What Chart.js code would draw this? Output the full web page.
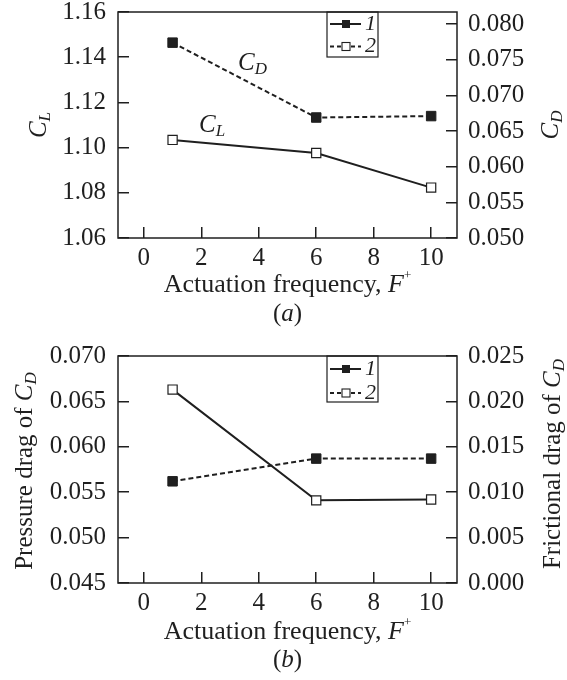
<!DOCTYPE html>
<html>
<head>
<meta charset="utf-8">
<script src="https://cdn.jsdelivr.net/npm/chart.js@4.4.1/dist/chart.umd.min.js"></script>
<style>
    body { margin: 0; background: #fff; }
    canvas { display: block; }
</style>
</head>
<body>
<canvas id="chartA" width="567" height="340"></canvas>
<canvas id="chartB" width="567" height="340"></canvas>
<script>
// actuation frequencies and x tick labels
var freq = [1, 6, 10];
var freqTicks = [0, 2, 4, 6, 8, 10];

// panel (a): lift (open squares, left) and drag (filled squares, right)
var liftCoef = [1.1034, 1.0976, 1.0823];
var dragCoef = [0.0774, 0.0669, 0.0671];
var liftTicks = [1.06, 1.08, 1.10, 1.12, 1.14, 1.16];
var dragTicks = [0.050, 0.055, 0.060, 0.065, 0.070, 0.075, 0.080];

// panel (b): pressure drag (open squares, left) and frictional drag (filled, right)
var pressureDrag = [0.0663, 0.0541, 0.0542];
var frictionDrag = [0.0112, 0.0137, 0.0137];
var pressureTicks = [0.045, 0.050, 0.055, 0.060, 0.065, 0.070];
var frictionTicks = [0.000, 0.005, 0.010, 0.015, 0.020, 0.025];

var legendLabels = ['1', '2'];

var FONT = '"Liberation Serif", "DejaVu Serif", serif';
var INK = '#1f1f1f';

function toPoints(xs, ys) {
    var pts = [];
    for (var i = 0; i < xs.length; i++) {
        pts.push({x: xs[i], y: ys[i]});
    }
    return pts;
}

function runFont(r) {
    var size = r.size || (r.sub ? 17 : (r.sup ? 13 : 25));
    return (r.it ? 'italic ' : '') + size + 'px ' + FONT;
}

// draw a line of mixed text (italic / subscript / superscript pieces)
function drawRuns(ctx, runs, x, y, align) {
    var total = 0;
    runs.forEach(function (r) {
        ctx.font = runFont(r);
        total += ctx.measureText(r.t).width;
    });
    var cx = align === 'center' ? x - total / 2 : x;
    ctx.textAlign = 'left';
    ctx.textBaseline = 'middle';
    ctx.fillStyle = INK;
    runs.forEach(function (r) {
        ctx.font = runFont(r);
        var dy = r.sub ? 7 : (r.sup ? -9 : 0);
        ctx.fillText(r.t, cx, y + dy);
        cx += ctx.measureText(r.t).width;
    });
}

function drawVertical(ctx, runs, x, y) {
    ctx.save();
    ctx.translate(x, y);
    ctx.rotate(-Math.PI / 2);
    drawRuns(ctx, runs, 0, 0, 'center');
    ctx.restore();
}

function drawLegend(ctx, box, rows) {
    ctx.setLineDash([]);
    ctx.lineWidth = 1.2;
    ctx.strokeStyle = INK;
    ctx.strokeRect(box[0], box[1], box[2] - box[0], box[3] - box[1]);
    for (var i = 0; i < rows.length; i++) {
        var y = rows[i];
        ctx.lineWidth = 2;
        ctx.setLineDash(i === 0 ? [] : [4, 3]);
        ctx.beginPath();
        ctx.moveTo(box[0] + 3, y);
        ctx.lineTo(box[0] + 34, y);
        ctx.stroke();
        ctx.setLineDash([]);
        if (i === 0) {
            ctx.fillStyle = INK;
            ctx.fillRect(box[0] + 15, y - 4, 8, 8);
        } else {
            ctx.fillStyle = '#fff';
            ctx.fillRect(box[0] + 15, y - 4, 8, 8);
            ctx.lineWidth = 1.1;
            ctx.strokeRect(box[0] + 15, y - 4, 8, 8);
        }
        drawRuns(ctx, [{t: legendLabels[i], it: true, size: 22}], box[0] + 38, y, 'left');
    }
}

function xAxis(height) {
    return {
        type: 'linear',
        min: -0.9,
        max: 10.9,
        afterBuildTicks: function (s) {
            s.ticks = freqTicks.map(function (v) { return {value: v}; });
        },
        afterFit: function (s) {
            s.height = height;
            s.paddingLeft = 0;
            s.paddingRight = 0;
        },
        grid: {drawOnChartArea: false, color: INK, lineWidth: 1.5, tickLength: -11},
        border: {display: false},
        ticks: {color: INK, font: {family: FONT, size: 25}, padding: 16, maxRotation: 0}
    };
}

function yAxis(pos, min, max, tickValues, dec) {
    return {
        type: 'linear',
        position: pos,
        min: min,
        max: max,
        afterBuildTicks: function (s) {
            s.ticks = tickValues.map(function (v) { return {value: v}; });
        },
        afterFit: function (s) {
            s.width = pos === 'left' ? 118 : 110;
            s.paddingTop = 0;
            s.paddingBottom = 0;
        },
        grid: {drawOnChartArea: false, color: INK, lineWidth: 1.5, tickLength: -11},
        border: {display: false},
        ticks: {
            color: INK,
            font: {family: FONT, size: 25},
            padding: pos === 'left' ? 23 : 22,
            callback: function (v) { return v.toFixed(dec); }
        }
    };
}

function openSet(data, axisId) {
    return {
        data: data,
        yAxisID: axisId,
        borderColor: INK,
        borderWidth: 2,
        pointStyle: 'rect',
        pointRadius: 6.5,
        pointBorderWidth: 1.2,
        pointBackgroundColor: '#fff',
        pointBorderColor: INK,
        tension: 0
    };
}

function filledSet(data, axisId) {
    return {
        data: data,
        yAxisID: axisId,
        borderColor: INK,
        borderWidth: 2,
        borderDash: [5, 3],
        pointStyle: 'rect',
        pointRadius: 6.7,
        pointBorderWidth: 1,
        pointBackgroundColor: INK,
        pointBorderColor: INK,
        tension: 0
    };
}

var xTitle = [{t: 'Actuation frequency, ', size: 26}, {t: 'F', it: true, size: 26}, {t: '+', sup: true}];

var panelA = {
    id: 'panelA',
    afterDraw: function (chart) {
        var ctx = chart.ctx, a = chart.chartArea;
        ctx.save();
        ctx.lineWidth = 1.5;
        ctx.strokeStyle = INK;
        ctx.strokeRect(a.left, a.top, a.right - a.left, a.bottom - a.top);

        drawVertical(ctx, [{t: 'C', it: true}, {t: 'L', it: true, sub: true}], 39, 125);
        drawVertical(ctx, [{t: 'C', it: true}, {t: 'D', it: true, sub: true}], 551, 125);
        drawRuns(ctx, xTitle, 287.5, 285, 'center');
        drawRuns(ctx, [{t: '('}, {t: 'a', it: true}, {t: ')'}], 287.5, 314, 'center');

        drawRuns(ctx, [{t: 'C', it: true}, {t: 'D', it: true, sub: true}], 238, 63, 'left');
        drawRuns(ctx, [{t: 'C', it: true}, {t: 'L', it: true, sub: true}], 199, 125, 'left');

        drawLegend(ctx, [327, 12, 378, 57], [24, 46.5]);
        ctx.restore();
    }
};

var panelB = {
    id: 'panelB',
    afterDraw: function (chart) {
        var ctx = chart.ctx, a = chart.chartArea;
        ctx.save();
        ctx.lineWidth = 1.5;
        ctx.strokeStyle = INK;
        ctx.strokeRect(a.left, a.top, a.right - a.left, a.bottom - a.top);

        drawVertical(ctx, [{t: 'Pressure drag of '}, {t: 'C', it: true}, {t: 'D', it: true, sub: true}], 25, 131);
        drawVertical(ctx, [{t: 'Frictional drag of '}, {t: 'C', it: true}, {t: 'D', it: true, sub: true}], 553, 124);
        drawRuns(ctx, xTitle, 287.5, 292, 'center');
        drawRuns(ctx, [{t: '('}, {t: 'b', it: true}, {t: ')'}], 287.5, 320, 'center');

        drawLegend(ctx, [327, 16, 378, 62], [29, 53]);
        ctx.restore();
    }
};

function baseOptions(padTop, xHeight) {
    return {
        responsive: false,
        animation: false,
        devicePixelRatio: 1,
        layout: {padding: {top: padTop, left: 0, right: 0, bottom: 0}, autoPadding: false},
        plugins: {legend: {display: false}, tooltip: {enabled: false}},
        scales: {x: xAxis(xHeight)}
    };
}

var optsA = baseOptions(12, 102);
optsA.scales.y = yAxis('left', 1.06, 1.16, liftTicks, 2);
optsA.scales.y2 = yAxis('right', 0.050, 0.0817, dragTicks, 3);

new Chart(document.getElementById('chartA'), {
    type: 'line',
    data: {
        datasets: [
            filledSet(toPoints(freq, dragCoef), 'y2'),
            openSet(toPoints(freq, liftCoef), 'y')
        ]
    },
    options: optsA,
    plugins: [panelA]
});

var optsB = baseOptions(16, 97);
optsB.scales.y = yAxis('left', 0.045, 0.070, pressureTicks, 3);
optsB.scales.y2 = yAxis('right', 0.000, 0.025, frictionTicks, 3);

new Chart(document.getElementById('chartB'), {
    type: 'line',
    data: {
        datasets: [
            filledSet(toPoints(freq, frictionDrag), 'y2'),
            openSet(toPoints(freq, pressureDrag), 'y')
        ]
    },
    options: optsB,
    plugins: [panelB]
});
</script>
</body>
</html>
